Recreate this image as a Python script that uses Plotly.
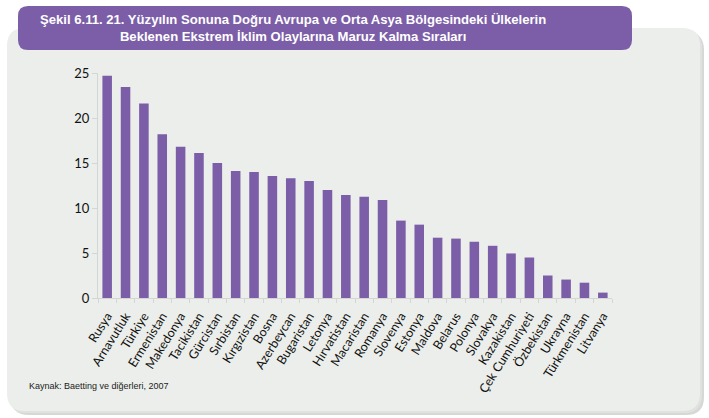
import plotly.graph_objects as go

countries = ["Rusya", "Arnavutluk", "Türkiye", "Ermenistan", "Makedonya", "Tacikistan",
             "Gürcistan", "Sırbistan", "Kırgızistan", "Bosna", "Azerbeycan", "Bugaristan",
             "Letonya", "Hırvatistan", "Macaristan", "Romanya", "Slovenya", "Estonya",
             "Maldova", "Belarus", "Polonya", "Slovakya", "Kazakistan", "Çek Cumhuriyeti",
             "Özbekistan", "Ukrayna", "Türkmenistan", "Litvanya"]
values = [24.7, 23.45, 21.6, 18.2, 16.8, 16.1, 15.0, 14.1, 14.0, 13.55, 13.3, 13.0,
          12.0, 11.45, 11.25, 10.9, 8.6, 8.15, 6.7, 6.6, 6.25, 5.8, 4.95, 4.5,
          2.5, 2.05, 1.7, 0.6]
y_ticks = [0, 5, 10, 15, 20, 25]

W, H = 709, 418
L, R, T, B = 98, 97, 73, 120
PW, PH = W - L - R, H - T - B

def px(x):
    return (x - L) / PW

def py(y):
    return (H - B - y) / PH

def rounded(x0, y0, x1, y1, r):
    pts = [
        f"M {px(x0 + r)} {py(y0)}",
        f"L {px(x1 - r)} {py(y0)}",
        f"Q {px(x1)} {py(y0)} {px(x1)} {py(y0 + r)}",
        f"L {px(x1)} {py(y1 - r)}",
        f"Q {px(x1)} {py(y1)} {px(x1 - r)} {py(y1)}",
        f"L {px(x0 + r)} {py(y1)}",
        f"Q {px(x0)} {py(y1)} {px(x0)} {py(y1 - r)}",
        f"L {px(x0)} {py(y0 + r)}",
        f"Q {px(x0)} {py(y0)} {px(x0 + r)} {py(y0)}",
        "Z",
    ]
    return " ".join(pts)

purple = "#7B5EA7"
panel = "#EBEEEA"

fig = go.Figure(go.Bar(x=countries, y=values, marker=dict(color=purple, line=dict(width=0))))

shapes = [
    dict(type="path", xref="paper", yref="paper", path=rounded(11, 32, 704, 415, 18),
         fillcolor="#D6D8D5", line=dict(width=0), layer="below"),
    dict(type="path", xref="paper", yref="paper", path=rounded(9, 30, 702, 413, 18),
         fillcolor="#E0E2DF", line=dict(width=0), layer="below"),
    dict(type="path", xref="paper", yref="paper", path=rounded(7, 28, 700, 411, 18),
         fillcolor=panel, line=dict(width=0), layer="below"),
    dict(type="path", xref="paper", yref="paper", path=rounded(18, 6, 632, 50, 10),
         fillcolor=purple, line=dict(width=0), layer="above"),
]

annotations = [
    dict(xref="paper", yref="paper", x=px(293), y=py(28.5), xanchor="center", yanchor="middle",
         text="Şekil 6.11. 21. Yüzyılın Sonuna Doğru Avrupa ve Orta Asya Bölgesindeki Ülkelerin<br>"
              "Beklenen Ekstrem İklim Olaylarına Maruz Kalma Sıraları",
         showarrow=False, align="center",
         font=dict(family="Liberation Sans Narrow, Arial Narrow, Liberation Sans, Arial", size=13.1,
                   color="white", weight="bold")),
    dict(xref="paper", yref="paper", x=px(27), y=py(386), xanchor="left", yanchor="middle",
         text="Kaynak: Baetting ve diğerleri, 2007", showarrow=False,
         font=dict(family="Liberation Sans Narrow, Arial Narrow, Liberation Sans, Arial", size=9,
                   color="#222222")),
]

fig.update_layout(
    width=W, height=H,
    margin=dict(l=L, r=R, t=T, b=B, autoexpand=False),
    paper_bgcolor="white", plot_bgcolor="rgba(0,0,0,0)",
    bargap=0.48,
    showlegend=False,
    shapes=shapes,
    annotations=annotations,
    font=dict(family="Lato, Carlito, Noto Sans", size=12, color="#222222"),
)
fig.update_xaxes(
    type="category", tickangle=-58, showline=True, linecolor="#D4D6D3", linewidth=1,
    ticks="outside", tickson="boundaries", ticklen=4, tickcolor="#D4D6D3",
    ticklabelstandoff=5,
    showgrid=False, tickfont=dict(size=12.5, color="#111111"), fixedrange=True,
)
fig.update_yaxes(
    range=[0, 25], tickvals=y_ticks, showline=True, linecolor="#D4D6D3", linewidth=1,
    ticks="outside", ticklen=5, tickcolor="#D4D6D3", showgrid=False, zeroline=False,
    tickfont=dict(size=13, color="#111111"), fixedrange=True,
)

fig.write_html("out.html", config={"displayModeBar": False},
               post_script="document.body.style.margin='0';document.body.style.overflow='hidden';")
